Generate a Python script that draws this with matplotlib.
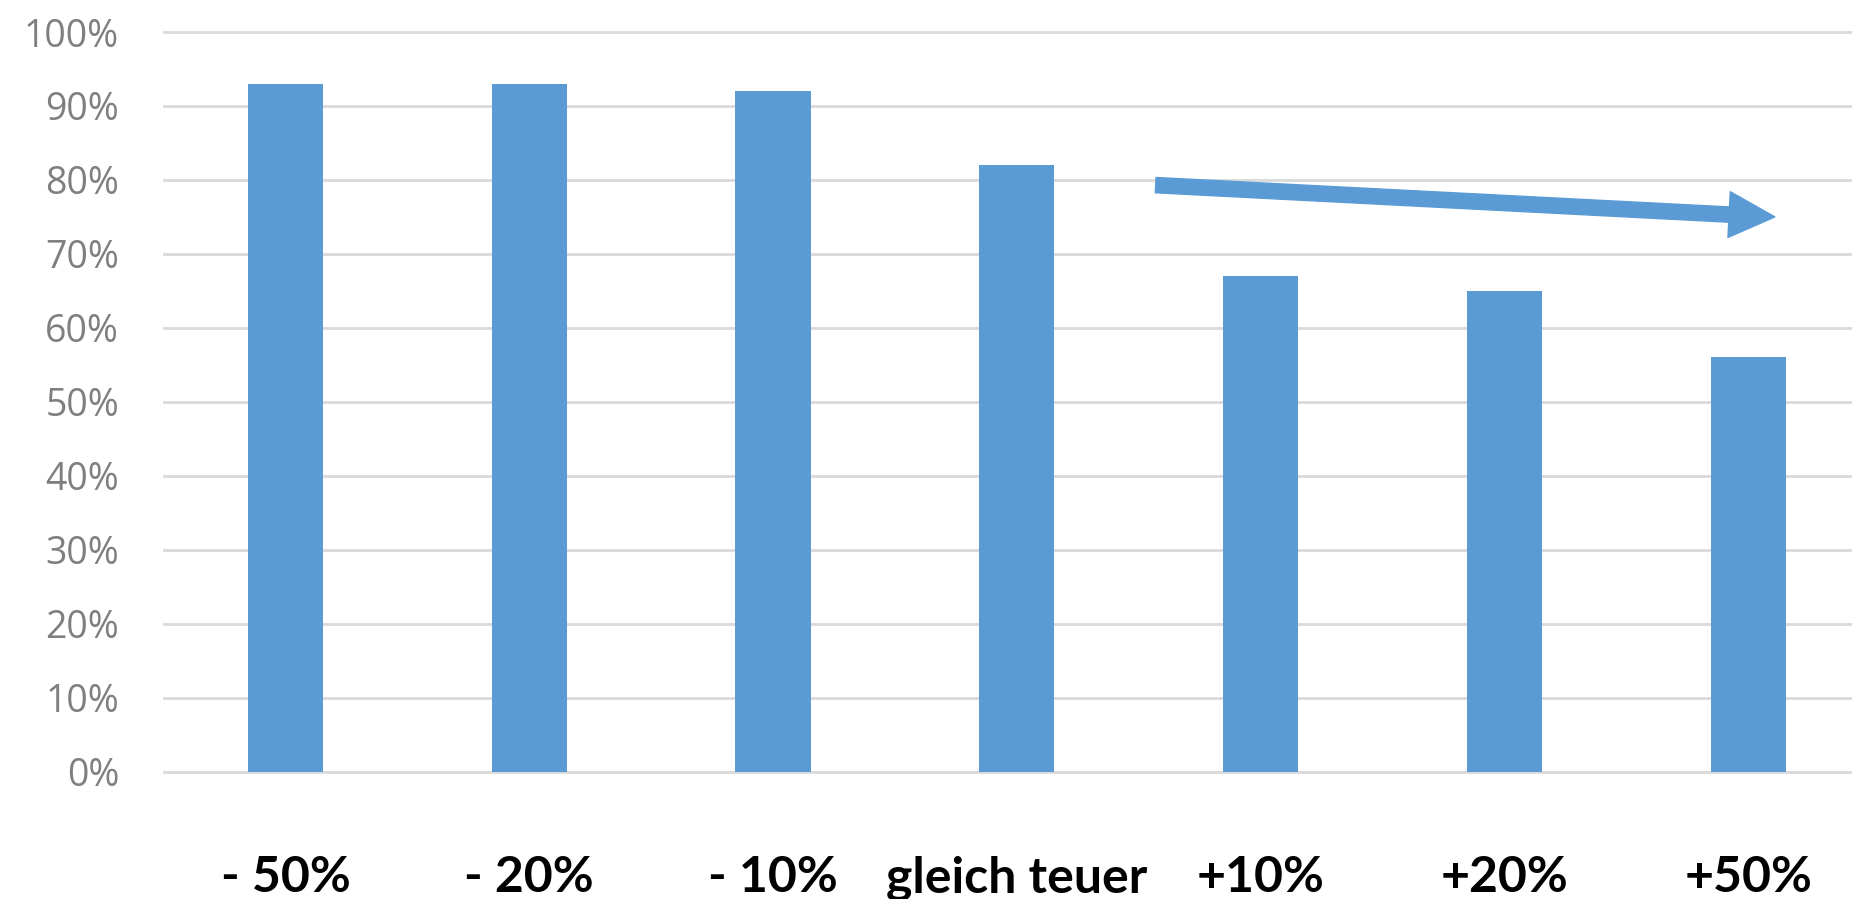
import matplotlib.pyplot as plt
from matplotlib.patches import FancyArrowPatch

# Daten aus dem Diagramm
kategorien = ['- 50%', '- 20%', '- 10%', 'gleich teuer', '+10%', '+20%', '+50%']
anteile = [93, 93, 92, 82, 67, 65, 56]
y_ticks = [0, 10, 20, 30, 40, 50, 60, 70, 80, 90, 100]
y_labels = [f'{t}%' for t in y_ticks]

# Trendpfeil (Datenkoordinaten: Kategorie-Index, Prozent)
pfeil_start = (3.57, 79.3)
pfeil_ende = (6.11, 75.0)

balken_farbe = '#5B9BD5'
gitter_farbe = '#D9D9D9'

fig = plt.figure(figsize=(18.52, 8.99), dpi=100)
ax = fig.add_axes([0.0883, 0.1416, 0.9214, 0.8228])

x = range(len(kategorien))
ax.bar(x, anteile, width=0.308, color=balken_farbe, zorder=3)

ax.set_xlim(-0.5, 6.5)
ax.set_ylim(0, 100)

# Gitterlinien wie in Excel
ax.set_yticks(y_ticks)
ax.set_yticklabels(y_labels, fontfamily='Open Sans', fontsize=27, color='#7F7F7F')
for y in y_ticks:
    ax.axhline(y, color=gitter_farbe, linewidth=2, zorder=1, clip_on=False)

ax.set_xticks(list(x))
ax.set_xticklabels(kategorien, fontfamily='Lato', fontweight='bold',
                   fontsize=36, color='black')

ax.tick_params(axis='y', length=0, pad=32)
ax.tick_params(axis='x', length=0, pad=60)

for s in ax.spines.values():
    s.set_visible(False)

# Pfeil nach rechts unten
pfeil = FancyArrowPatch(pfeil_start, pfeil_ende,
                        arrowstyle='simple,head_length=33,head_width=33,tail_width=11',
                        mutation_scale=1, shrinkA=0, shrinkB=0,
                        color=balken_farbe, zorder=4, clip_on=False)
ax.add_patch(pfeil)

plt.savefig('out.png', dpi=100)
